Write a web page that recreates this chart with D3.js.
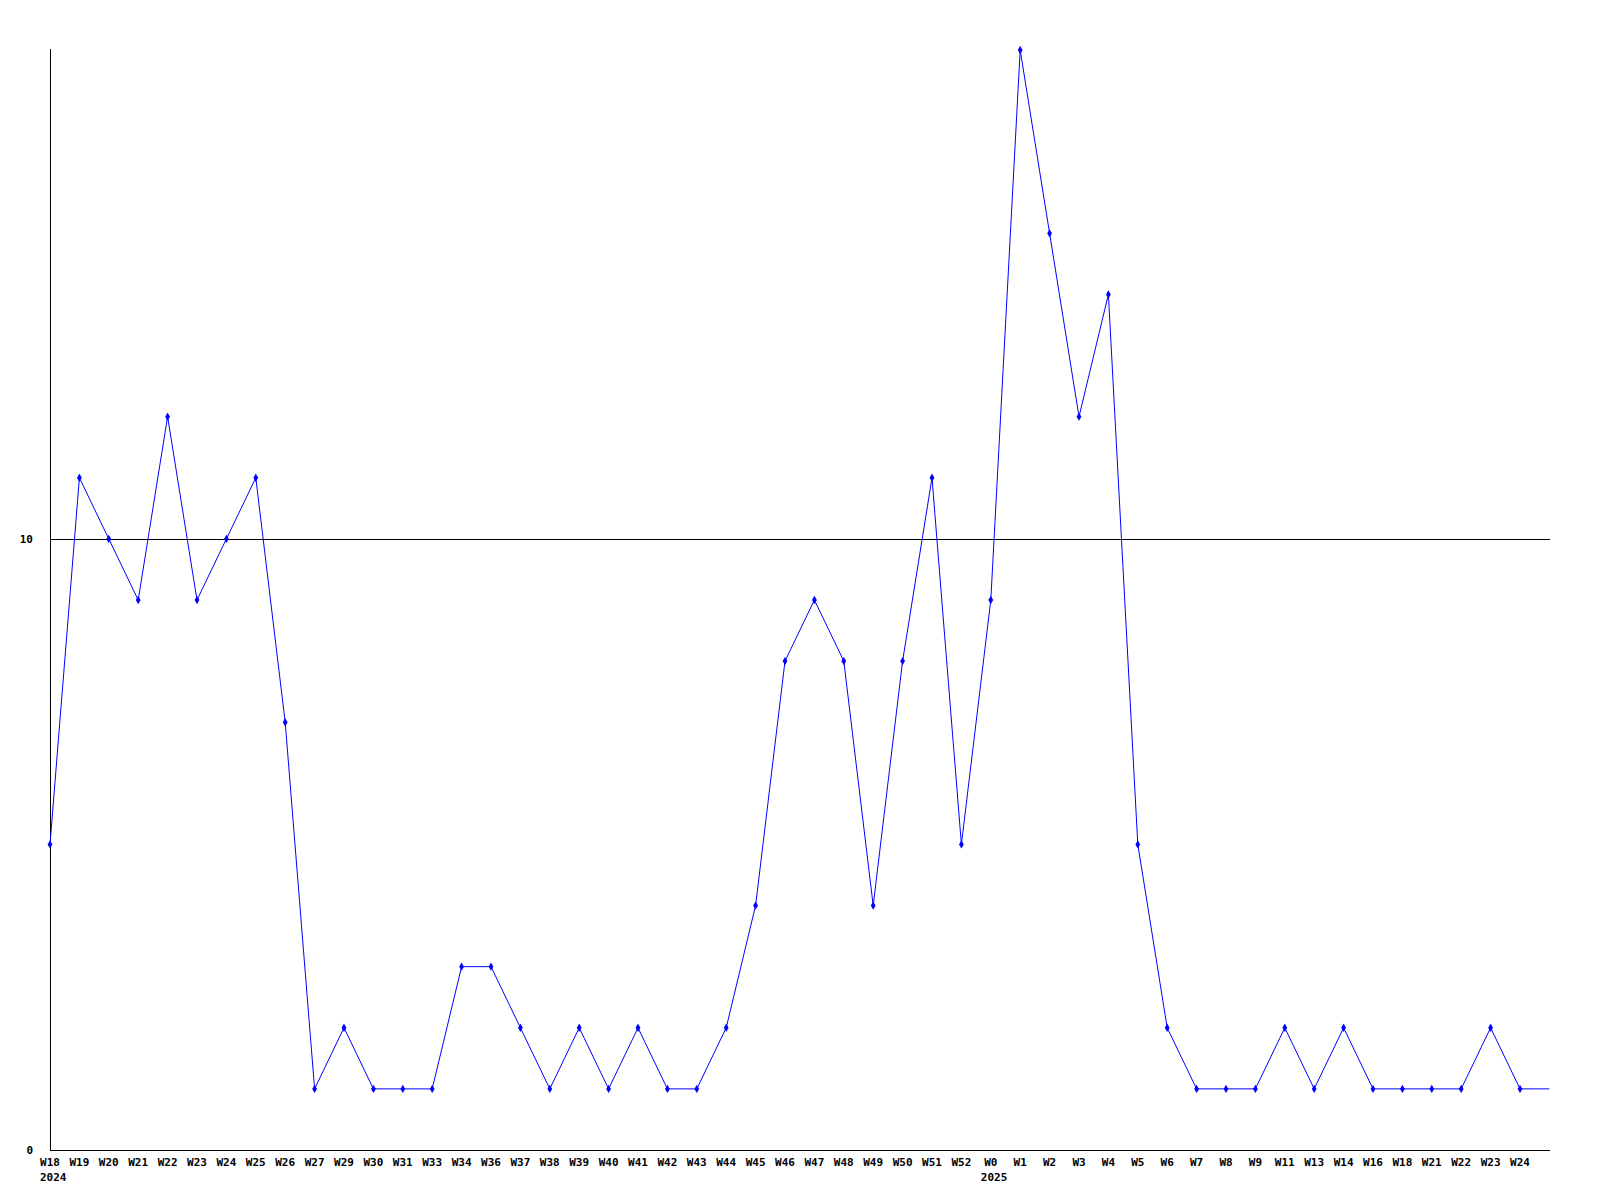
<!DOCTYPE html>
<html><head><meta charset="utf-8">
<script src="https://cdn.jsdelivr.net/npm/d3@7"></script>
<style>body{margin:0;background:#fff}svg{display:block}text{font-family:"DejaVu Sans Mono",monospace;font-weight:bold;font-size:11px;fill:#000}</style>
</head><body><div id="chart"></div>
<script>
const weeks = ["W18","W19","W20","W21","W22","W23","W24","W25","W26","W27","W29","W30","W31","W33","W34","W36","W37","W38","W39","W40","W41","W42","W43","W44","W45","W46","W47","W48","W49","W50","W51","W52","W0","W1","W2","W3","W4","W5","W6","W7","W8","W9","W11","W13","W14","W16","W18","W21","W22","W23","W24",""];
const years = {0:"2024", 32:"2025"};
const values = [5,11,10,9,12,9,10,11,7,1,2,1,1,1,3,3,2,1,2,1,2,1,1,2,4,8,9,8,4,8,11,5,9,18,15,12,14,5,2,1,1,1,2,1,2,1,1,1,1,2,1,1];
const yTicks = [0,10];

const W = 1600, H = 1200;
const svg = d3.select("#chart").append("svg").attr("width", W).attr("height", H);
const x = d3.scaleLinear().domain([0, weeks.length - 1]).range([50, 1549.4]);
const y = d3.scaleLinear().domain([0, 18]).range([1150, 50]);

svg.append("line").attr("x1", 50).attr("x2", 1550).attr("y1", Math.round(y(10)) + 0.5).attr("y2", Math.round(y(10)) + 0.5).attr("stroke", "#000");
svg.append("line").attr("x1", 50.5).attr("x2", 50.5).attr("y1", 49).attr("y2", 1150).attr("stroke", "#000");
svg.append("line").attr("x1", 50).attr("x2", 1550).attr("y1", 1150.5).attr("y2", 1150.5).attr("stroke", "#000");

svg.selectAll(".yl").data(yTicks).enter().append("text")
  .attr("x", 33).attr("y", d => y(d) + 4).attr("text-anchor", "end").text(d => d);

svg.selectAll(".xl").data(weeks).enter().append("text")
  .attr("x", (d, i) => x(i)).attr("y", 1166).attr("text-anchor", "middle").text(d => d);
svg.selectAll(".yr").data(Object.keys(years)).enter().append("text")
  .attr("x", d => x(+d) - 10).attr("y", 1181).text(d => years[d]);

const line = d3.line().x((d, i) => x(i)).y(d => y(d));
svg.append("path").datum(values).attr("d", line).attr("fill", "none").attr("stroke", "#0000ff").attr("stroke-width", 1);

const sym = d3.symbol().type(d3.symbolDiamond).size(20);
svg.selectAll(".pt").data(values.slice(0, weeks.length - 1)).enter().append("path")
  .attr("d", sym).attr("transform", (d, i) => `translate(${x(i)},${y(d)})`).attr("fill", "#0000ff");
</script></body></html>
